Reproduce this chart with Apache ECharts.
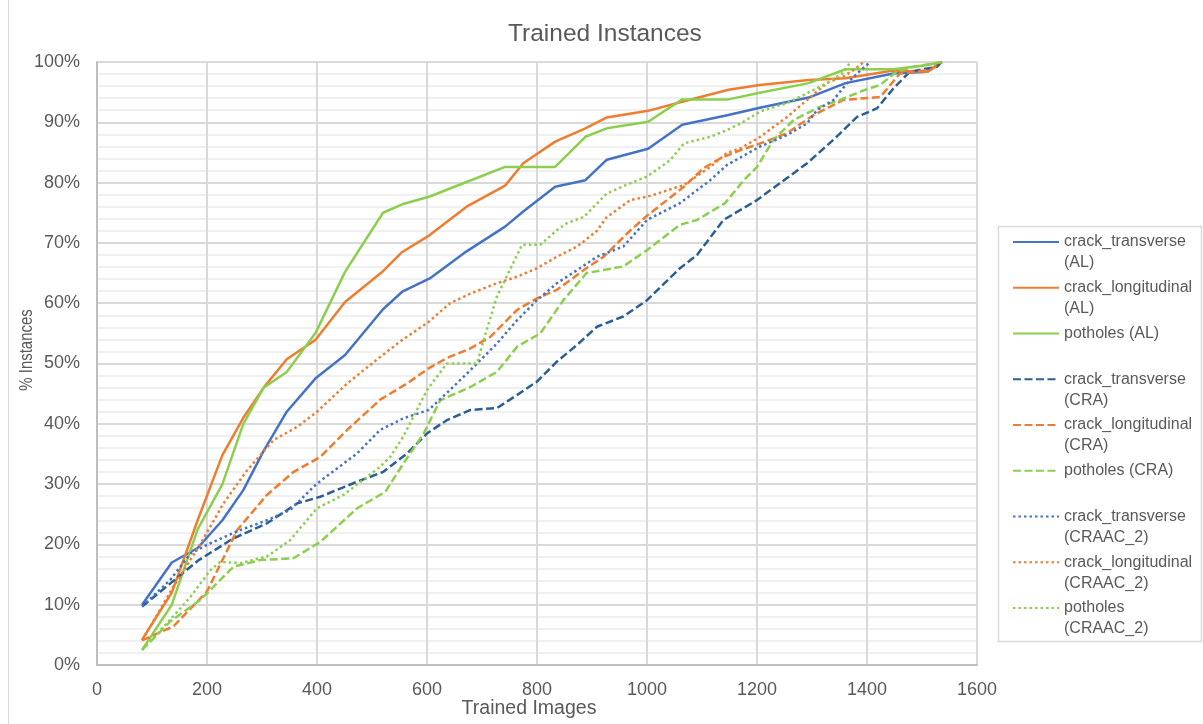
<!DOCTYPE html>
<html>
<head>
<meta charset="utf-8">
<script src="https://cdn.jsdelivr.net/npm/echarts@6/dist/echarts.min.js"></script>
<style>
  html, body { margin: 0; padding: 0; background: #ffffff; }
  #chart { width: 1203px; height: 724px; }
</style>
</head>
<body>
<div id="chart"></div>
<script>
// Trained images per active-learning cycle (AL runs share the same schedule)
const trainedImagesAL = [82, 136, 183, 228, 266, 303, 345, 397, 451, 520, 555, 605, 672, 742, 775, 833, 888, 927, 1002, 1064, 1148, 1205, 1294, 1361, 1448, 1510, 1536];

// % instances seen, AL strategy
const crackTransverseAL = [10, 17, 19.4, 24, 29, 35.5, 42, 47.5, 51.4, 59, 61.9, 64.1, 68.6, 72.7, 75.2, 79.3, 80.4, 83.8, 85.6, 89.6, 91.2, 92.4, 94.1, 96.5, 98.1, 98.4, 100];
const crackLongitudinalAL = [4.2, 12, 24, 34.8, 41, 46, 50.7, 53.9, 60.2, 65.3, 68.5, 71.3, 76, 79.5, 83.2, 86.8, 89, 90.8, 91.9, 93.4, 95.4, 96.2, 97, 97.3, 98.6, 98.4, 100];
const potholesAL = [2.5, 10, 22.5, 30, 40, 46, 48.6, 55, 65.2, 75, 76.4, 77.7, 80.1, 82.6, 82.6, 82.6, 87.6, 89, 90.1, 93.8, 93.8, 94.9, 96.5, 98.8, 98.8, 99.5, 100];

// CRA strategy: [trained images, % instances]
const crackTransverseCRA = [[82, 9.7], [133, 13.5], [185, 17.4], [248, 21], [309, 23.5], [364, 26.8], [406, 27.9], [473, 30.4], [520, 32], [564, 35.1], [600, 38.4], [636, 40.6], [679, 42.3], [727, 42.6], [764, 44.8], [800, 47], [836, 50.3], [873, 53.1], [909, 56.1], [957, 57.8], [1000, 60.5], [1060, 65.8], [1091, 68], [1139, 73.8], [1200, 77.1], [1291, 83.2], [1339, 87.1], [1382, 90.9], [1418, 92.3], [1448, 95.6], [1478, 98.4], [1527, 99.2], [1536, 100]];
const crackLongitudinalCRA = [[82, 4.1], [139, 6.4], [200, 12.2], [255, 22.4], [309, 28.2], [357, 32], [406, 34.5], [455, 39], [515, 44], [564, 46.7], [603, 49.2], [636, 50.9], [679, 52.5], [715, 54.4], [764, 58.9], [800, 60.8], [836, 62.2], [885, 65.5], [921, 67.7], [970, 72.1], [1000, 74.5], [1067, 79.3], [1103, 82.4], [1133, 84], [1170, 85.4], [1206, 86.5], [1255, 88.2], [1303, 91.2], [1357, 93.7], [1424, 94.2], [1460, 98.1], [1515, 98.7], [1536, 100]];
const potholesCRA = [[82, 2.5], [133, 7.2], [188, 10.8], [248, 16.3], [297, 17.4], [357, 17.7], [406, 20.4], [473, 26], [524, 28.7], [557, 33.4], [594, 38.4], [624, 43.9], [679, 46.1], [727, 48.6], [764, 52.8], [806, 55], [848, 60.5], [890, 65], [921, 65.5], [957, 66.1], [1000, 68.8], [1060, 73], [1091, 73.8], [1142, 76.6], [1176, 80.4], [1200, 82.6], [1230, 87.1], [1267, 90.4], [1315, 92.6], [1351, 93.7], [1388, 95.1], [1424, 96.2], [1454, 98.4], [1485, 99.2], [1536, 100]];

// CRAAC_2 strategy: [trained images, % instances]
const crackTransverseCRAAC2 = [[82, 9.7], [133, 14.1], [170, 18.5], [206, 20.2], [261, 22.4], [309, 24], [351, 25.7], [400, 30.1], [473, 35.1], [515, 39], [557, 40.9], [603, 42.3], [636, 45.1], [679, 48.9], [727, 53.3], [764, 57.2], [800, 60.5], [836, 63.3], [873, 65.5], [909, 67.7], [957, 69.4], [1000, 73.8], [1060, 76.6], [1115, 80.4], [1145, 82.9], [1206, 86], [1255, 87.9], [1291, 89.8], [1309, 92], [1339, 93.7], [1364, 96.5], [1382, 98.1], [1406, 100]];
const crackLongitudinalCRAAC2 = [[82, 4.1], [139, 13], [185, 19.6], [230, 26.8], [273, 32.3], [321, 37.3], [364, 39.5], [400, 42], [455, 46.7], [515, 51.1], [555, 53.9], [603, 56.9], [642, 60], [679, 61.6], [727, 63.3], [764, 64.4], [800, 65.8], [836, 67.7], [873, 69.4], [909, 72], [927, 74.3], [970, 77.1], [1006, 77.8], [1067, 79.6], [1115, 82.6], [1145, 84.9], [1170, 85.7], [1206, 87.6], [1255, 90.9], [1291, 93.7], [1327, 96.5], [1357, 97.6], [1376, 98.7], [1394, 100]];
const potholesCRAAC2 = [[82, 2.5], [133, 7.5], [170, 11.3], [206, 15.7], [224, 17.1], [261, 16.9], [309, 18], [351, 20.7], [400, 26], [448, 28.2], [515, 32.9], [533, 34.5], [557, 37.9], [600, 45.6], [636, 50], [691, 50], [703, 53.9], [727, 61.1], [773, 69.7], [806, 69.7], [836, 72.1], [855, 73.3], [885, 74.3], [927, 78.2], [970, 79.9], [1000, 81], [1042, 83.7], [1067, 86.5], [1115, 87.6], [1145, 88.7], [1170, 89.8], [1206, 91.8], [1255, 93.2], [1291, 94.8], [1327, 96.5], [1355, 98.1], [1370, 100]];

// Axis ticks
const xTicks = { min: 0, max: 1600, step: 200 };
const yTicks = { min: 0, max: 100, step: 10 };

const FONT = 'Liberation Sans, Arial, sans-serif';
const GREY = '#595959';
const BLUE = '#4472c4';
const DARK_BLUE = '#2b5f93';
const ORANGE = '#ed7d31';
const GREEN = '#8ccf4f';
const DASH = [8, 3.5];
const DOT = [2.5, 3];

function zipAL(values) {
  return trainedImagesAL.map((x, i) => [x, values[i]]);
}

function lineSeries(name, data, color, type) {
  return {
    name: name,
    type: 'line',
    data: data,
    symbol: 'none',
    smooth: false,
    lineStyle: { color: color, width: 2.5, type: type, cap: 'butt' },
    itemStyle: { color: color }
  };
}

const series = [
  lineSeries('crack_transverse\n(AL)', zipAL(crackTransverseAL), BLUE, 'solid'),
  lineSeries('crack_longitudinal\n(AL)', zipAL(crackLongitudinalAL), ORANGE, 'solid'),
  lineSeries('potholes (AL)', zipAL(potholesAL), GREEN, 'solid'),
  lineSeries('crack_transverse\n(CRA)', crackTransverseCRA, DARK_BLUE, DASH),
  lineSeries('crack_longitudinal\n(CRA)', crackLongitudinalCRA, ORANGE, DASH),
  lineSeries('potholes (CRA)', potholesCRA, GREEN, DASH),
  lineSeries('crack_transverse\n(CRAAC_2)', crackTransverseCRAAC2, BLUE, DOT),
  lineSeries('crack_longitudinal\n(CRAAC_2)', crackLongitudinalCRAAC2, ORANGE, DOT),
  lineSeries('potholes\n(CRAAC_2)', potholesCRAAC2, GREEN, DOT)
];

// Legend labels are laid out as three rows (blank, name, suffix) so that the
// key line sits beside the first text row and every entry has the same height.
function legendLabel(name) {
  const parts = name.split('\n');
  return '\n' + parts[0] + '\n' + (parts[1] || ' ');
}

const chart = echarts.init(document.getElementById('chart'), null, { renderer: 'canvas' });

chart.setOption({
  animation: false,
  backgroundColor: '#ffffff',
  title: {
    text: 'Trained Instances',
    left: 503,
    top: 17,
    textStyle: { fontFamily: FONT, fontSize: 24.5, fontWeight: 'normal', color: GREY }
  },
  grid: { left: 97, right: 226, top: 62, bottom: 59, containLabel: false, outerBoundsMode: 'none' },
  xAxis: {
    type: 'value',
    min: xTicks.min,
    max: xTicks.max,
    interval: xTicks.step,
    name: 'Trained Images',
    nameLocation: 'middle',
    nameGap: 34,
    nameMoveOverlap: false,
    nameTextStyle: { fontFamily: FONT, fontSize: 19.5, color: GREY, padding: [0, 16, 0, 0] },
    axisLine: { show: true, lineStyle: { color: '#bfbfbf', width: 2 } },
    axisTick: { show: false },
    axisLabel: { fontFamily: FONT, fontSize: 18, color: GREY, margin: 16, formatter: v => String(v) },
    splitLine: { show: true, lineStyle: { color: '#d9d9d9', width: 2 } }
  },
  yAxis: {
    type: 'value',
    min: yTicks.min,
    max: yTicks.max,
    interval: yTicks.step,
    axisLine: { show: true, lineStyle: { color: '#bfbfbf', width: 2 } },
    axisTick: { show: false },
    axisLabel: { fontFamily: FONT, fontSize: 18, color: GREY, margin: 17, formatter: '{value}%' },
    splitLine: { show: true, lineStyle: { color: '#d9d9d9', width: 2 } },
    minorTick: { show: false, splitNumber: 5 },
    minorSplitLine: { show: true, lineStyle: { color: '#f0f0f0', width: 2 } }
  },
  legend: {
    orient: 'vertical',
    left: 1012,
    top: 210.5,
    padding: 0,
    itemWidth: 46,
    itemHeight: 14,
    itemGap: -17.25,
    selectedMode: false,
    formatter: legendLabel,
    itemStyle: { opacity: 0, borderWidth: 0 },
    textStyle: { fontFamily: FONT, fontSize: 16, color: GREY, lineHeight: 21 },
    data: series.map(s => s.name)
  },
  graphic: [
    {
      type: 'line',
      silent: true,
      shape: { x1: 8.5, y1: 0, x2: 8.5, y2: 724 },
      style: { stroke: '#d9d9d9', lineWidth: 1 }
    },
    {
      type: 'rect',
      silent: true,
      shape: { x: 998.5, y: 226.5, width: 203, height: 415 },
      style: { fill: null, stroke: '#d9d9d9', lineWidth: 1.5 }
    },
    {
      // vertical axis title, condensed along its length
      type: 'text',
      silent: true,
      x: 27,
      y: 350,
      rotation: Math.PI / 2,
      scaleX: 0.83,
      style: {
        text: '% Instances',
        fontFamily: FONT,
        fontSize: 18,
        fill: GREY,
        align: 'center',
        verticalAlign: 'middle'
      }
    }
  ],
  series: series
});
</script>
</body>
</html>
